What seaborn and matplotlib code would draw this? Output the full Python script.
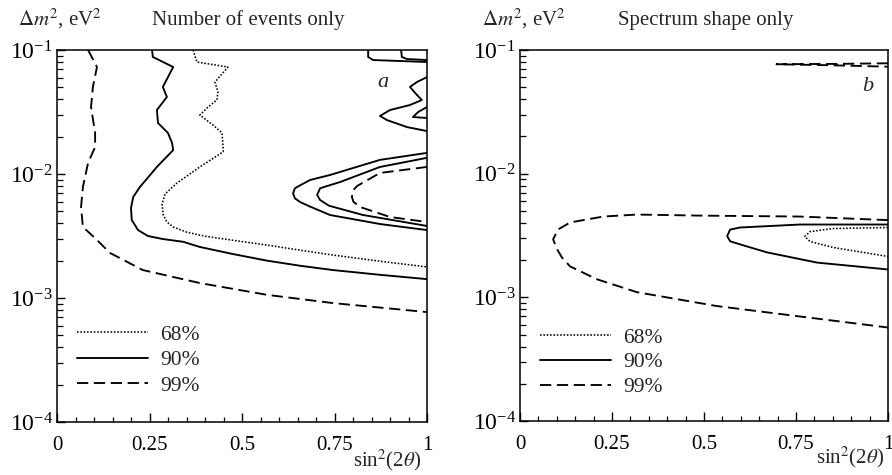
import matplotlib
matplotlib.use("Agg")
import matplotlib.pyplot as plt
from matplotlib.lines import Line2D
from matplotlib.ticker import LogLocator, FixedLocator, NullFormatter, MultipleLocator
import seaborn as sns

# ---- contour data: sin^2(2theta) (x) and delta m^2 in eV^2 (y) ----
# Panel a: number of events only
a99_x = [0.084, 0.108, 0.097, 0.092, 0.103, 0.103, 0.084, 0.070, 0.065, 0.070, 0.108,
         0.143, 0.232, 0.386, 0.568, 0.746, 1.0]
a99_y = [0.1, 0.0729, 0.0504, 0.0347, 0.0214, 0.0165, 0.0123, 0.00785, 0.00542, 0.00374,
         0.00294, 0.00231, 0.00168, 0.00132, 0.00106, 0.00091, 0.00077]

a90_x = [0.257, 0.259, 0.314, 0.300, 0.286, 0.297, 0.270, 0.273, 0.300, 0.311, 0.314,
         0.270, 0.224, 0.206, 0.200, 0.202, 0.219, 0.246, 0.286, 0.341, 0.386, 0.476,
         0.568, 0.657, 0.746, 0.881, 1.0]
a90_y = [0.1, 0.0879, 0.0729, 0.0605, 0.0504, 0.0418, 0.0328, 0.0258, 0.0214, 0.0178,
         0.0156, 0.0114, 0.00785, 0.00653, 0.00532, 0.00426, 0.00353, 0.00316, 0.00299,
         0.00284, 0.00258, 0.00226, 0.00200, 0.00182, 0.00168, 0.00153, 0.00142]

a68_x = [0.368, 0.378, 0.462, 0.427, 0.435, 0.432, 0.405, 0.386, 0.422, 0.446, 0.449,
         0.449, 0.386, 0.324, 0.292, 0.284, 0.287, 0.297, 0.314, 0.350, 0.400, 0.476,
         0.568, 0.657, 0.746, 0.873, 1.0]
a68_y = [0.1, 0.0800, 0.0729, 0.0552, 0.0458, 0.0395, 0.0340, 0.0299, 0.0248, 0.0214,
         0.0165, 0.0151, 0.0114, 0.00845, 0.00690, 0.00570, 0.00470, 0.00410, 0.00374,
         0.00340, 0.00315, 0.00292, 0.00267, 0.00243, 0.00222, 0.00198, 0.00178]

a90_oval1_x = [1.0, 0.873, 0.738, 0.684, 0.657, 0.643, 0.638, 0.643, 0.657, 0.684, 0.738,
               0.873, 1.0]
a90_oval1_y = [0.0148, 0.0130, 0.00982, 0.00895, 0.00810, 0.00767, 0.00698, 0.00637,
               0.00594, 0.00546, 0.00467, 0.00395, 0.00353]

a90_oval2_x = [1.0, 0.873, 0.765, 0.730, 0.711, 0.703, 0.711, 0.735, 0.827, 1.0]
a90_oval2_y = [0.0135, 0.0114, 0.00861, 0.00800, 0.00767, 0.00678, 0.00617, 0.00555,
               0.00467, 0.00381]

a99_oval_x = [1.0, 0.873, 0.811, 0.801, 0.797, 0.801, 0.819, 0.900, 1.0]
a99_oval_y = [0.0114, 0.0102, 0.00800, 0.00743, 0.00653, 0.00598, 0.00542, 0.00450,
              0.00410]

a90_top1_x = [0.841, 0.841, 0.854, 0.927, 1.0]
a90_top1_y = [0.1, 0.0879, 0.0830, 0.0815, 0.0800]

a90_top2_x = [0.930, 0.932, 0.946, 1.0]
a90_top2_y = [0.1, 0.0879, 0.0845, 0.0830]

a90_wave_x = [1.0, 0.973, 0.954, 0.968, 0.986, 0.954, 0.900, 0.873, 0.892, 0.946, 1.0]
a90_wave_y = [0.0605, 0.0552, 0.0504, 0.0450, 0.0395, 0.0360, 0.0328, 0.0294, 0.0272,
              0.0239, 0.0222]

a90_loop_x = [1.0, 0.976, 0.962, 1.0]
a90_loop_y = [0.0347, 0.0316, 0.0288, 0.0283]

# Panel b: spectrum shape only
b99_x = [1.0, 0.761, 0.489, 0.318, 0.226, 0.136, 0.103, 0.090, 0.101, 0.114, 0.136,
         0.209, 0.318, 0.535, 0.761, 1.0]
b99_y = [0.00421, 0.00450, 0.00458, 0.00467, 0.00450, 0.00403, 0.00353, 0.00294,
         0.00244, 0.00210, 0.00178, 0.00140, 0.00110, 0.00085, 0.00070, 0.00057]

b90_x = [1.0, 0.761, 0.598, 0.571, 0.563, 0.571, 0.600, 0.671, 0.807, 1.0]
b90_y = [0.00388, 0.00388, 0.00367, 0.00353, 0.00313, 0.00284, 0.00267, 0.00231,
         0.00191, 0.00168]

b68_x = [1.0, 0.851, 0.788, 0.774, 0.788, 0.851, 1.0]
b68_y = [0.00367, 0.00360, 0.00340, 0.00310, 0.00283, 0.00253, 0.00214]

b99_top_x = [1.0, 0.85, 0.697, 0.85, 1.0]
b99_top_y = [0.0781, 0.0772, 0.0767, 0.0752, 0.0733]

levels = ["68%", "90%", "99%"]
x_ticks = [0, 0.25, 0.5, 0.75, 1]
x_tick_labels = ["0", "0.25", "0.5", "0.75", "1"]
panel_titles = ["Number of events only", "Spectrum shape only"]
panel_tags = ["a", "b"]

# ---- styling ----
sns.set_theme(style="ticks")
FS = 15
plt.rcParams.update({
    "font.family": ["Liberation Serif", "DejaVu Serif"],
    "mathtext.fontset": "stix",
    "font.size": FS,
    "axes.linewidth": 1.1,
    "axes.edgecolor": "black",
})

LW = 1.35
STYLE = {
    "68%": dict(linestyle=(0, (1.0, 1.1)), linewidth=1.15),
    "90%": dict(linestyle="-", linewidth=LW),
    "99%": dict(linestyle=(0, (6, 3)), linewidth=LW),
}

W, H = 892, 475
fig = plt.figure(figsize=(W / 100, H / 100), dpi=100)

def px_box(x0, x1, y0, y1):
    return [x0 / W, 1 - y1 / H, (x1 - x0) / W, (y1 - y0) / H]

ax_a = fig.add_axes(px_box(57, 427, 50, 422))
ax_b = fig.add_axes(px_box(520, 888, 50, 421))

def curve(ax, xs, ys, level):
    sns.lineplot(x=xs, y=ys, sort=False, estimator=None, color="black", ax=ax,
                 **STYLE[level])

curve(ax_a, a99_x, a99_y, "99%")
curve(ax_a, a90_x, a90_y, "90%")
curve(ax_a, a68_x, a68_y, "68%")
curve(ax_a, a90_oval1_x, a90_oval1_y, "90%")
curve(ax_a, a90_oval2_x, a90_oval2_y, "90%")
curve(ax_a, a99_oval_x, a99_oval_y, "99%")
curve(ax_a, a90_top1_x, a90_top1_y, "90%")
curve(ax_a, a90_top2_x, a90_top2_y, "90%")
curve(ax_a, a90_wave_x, a90_wave_y, "90%")
curve(ax_a, a90_loop_x, a90_loop_y, "90%")

curve(ax_b, b99_x, b99_y, "99%")
curve(ax_b, b90_x, b90_y, "90%")
curve(ax_b, b68_x, b68_y, "68%")
curve(ax_b, b99_top_x, b99_top_y, "99%")

legend_pos = [(0.054, 0.262), (0.054, 0.252)]
tag_pos = [(383, 87), (868, 91)]
title_cx = [248, 706]
ylab_x = [18, 482]
xlab_right = [421, 884]
xlab_y = [466, 463]

for i, ax in enumerate([ax_a, ax_b]):
    ax.set_yscale("log")
    ax.set_xlim(0, 1)
    ax.set_ylim(1e-4, 1e-1)
    ax.xaxis.set_major_locator(FixedLocator(x_ticks))
    ax.set_xticklabels(x_tick_labels)
    ax.xaxis.set_minor_locator(MultipleLocator(0.05))
    ax.yaxis.set_major_locator(LogLocator(base=10, numticks=10))
    ax.yaxis.set_minor_locator(LogLocator(base=10, subs=range(2, 10), numticks=10))
    ax.yaxis.set_minor_formatter(NullFormatter())
    ax.tick_params(axis="both", which="both", direction="in", colors="black",
                   top=False, right=False)
    ax.tick_params(axis="x", which="major", length=6.8, width=1.0, pad=10, labelsize=FS)
    ax.tick_params(axis="x", which="minor", length=3.8, width=0.9)
    ax.tick_params(axis="y", which="major", length=6.0, width=1.0, pad=3, labelsize=17)
    ax.tick_params(axis="y", which="minor", length=4.2, width=0.9)
    for s in ax.spines.values():
        s.set_visible(True)
        s.set_color("black")
        s.set_linewidth(1.1)
    ax.set_xlabel("")
    ax.set_ylabel("")

    handles = [Line2D([], [], color="black", **STYLE[lv]) for lv in levels]
    ax.legend(handles, levels, loc="upper left", bbox_to_anchor=legend_pos[i],
              frameon=False, fontsize=FS + 0.5, handlelength=3.3, handletextpad=0.55,
              labelspacing=0.25 - 0.03 * i, borderpad=0, borderaxespad=0)

    fig.text(tag_pos[i][0] / W, 1 - tag_pos[i][1] / H, panel_tags[i], ha="center",
             va="baseline", fontsize=FS + 1, style="italic")
    fig.text(title_cx[i] / W, 1 - 25 / H, panel_titles[i], ha="center",
             va="baseline", fontsize=FS)
    fig.text(ylab_x[i] / W, 1 - 25 / H, r"$\Delta m^2$, eV$^2$", ha="left",
             va="baseline", fontsize=FS)
    fig.text(xlab_right[i] / W, 1 - xlab_y[i] / H, r"sin$^2$(2$\theta$)", ha="right",
             va="baseline", fontsize=FS)

fig.savefig("out.png", dpi=100, facecolor="white")
